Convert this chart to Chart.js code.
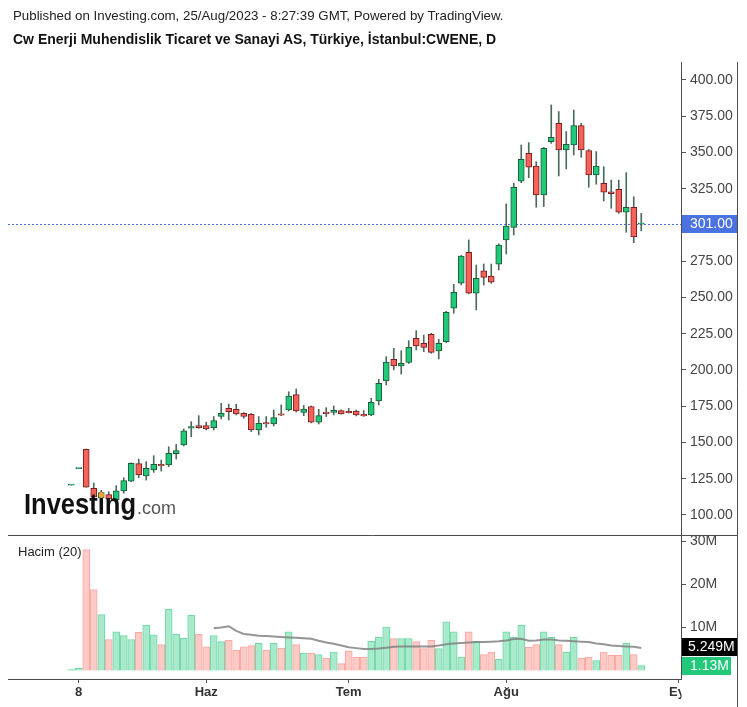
<!DOCTYPE html>
<html>
<head>
<meta charset="utf-8">
<script src="https://cdn.jsdelivr.net/npm/chart.js@4.4.0/dist/chart.umd.min.js"></script>
<style>
  html, body { margin: 0; padding: 0; background: #fff; }
  #wrap { position: relative; width: 747px; height: 707px; }
  #chart { position: absolute; left: 0; top: 0; }
  .hdr { position: absolute; left: 13px; font-family: "Liberation Sans", Arial, sans-serif; white-space: nowrap; }
  #pub { top: 8px; font-size: 13.3px; line-height: 15px; color: #222; }
  #ttl { top: 31px; font-size: 14px; line-height: 16px; font-weight: bold; color: #111; }
</style>
</head>
<body>
<div id="wrap">
  <canvas id="chart" width="747" height="707"></canvas>
  <div class="hdr" id="pub">Published on Investing.com, 25/Aug/2023 - 8:27:39 GMT, Powered by TradingView.</div>
  <div class="hdr" id="ttl">Cw Enerji Muhendislik Ticaret ve Sanayi AS, Türkiye, İstanbul:CWENE, D</div>
</div>
<script>
// trading days (2023)
const dates = [
  '05-05', '05-08', '05-09', '05-10', '05-11', '05-12', '05-15', '05-16', '05-17', '05-18',
  '05-22', '05-23', '05-24', '05-25', '05-26', '05-29', '05-30', '05-31',
  '06-01', '06-02', '06-05', '06-06', '06-07', '06-08', '06-09', '06-12', '06-13', '06-14',
  '06-15', '06-16', '06-19', '06-20', '06-21', '06-22', '06-23', '06-26', '06-27',
  '07-03', '07-04', '07-05', '07-06', '07-07', '07-10', '07-11', '07-12', '07-13', '07-14',
  '07-17', '07-18', '07-19', '07-20', '07-21', '07-24', '07-25', '07-26', '07-27', '07-28', '07-31',
  '08-01', '08-02', '08-03', '08-04', '08-07', '08-08', '08-09', '08-10', '08-11',
  '08-14', '08-15', '08-16', '08-17', '08-18', '08-21', '08-22', '08-23', '08-24', '08-25'
];

const open = [
  120.6, 132.0, 145.3, 118.4, 112.0, 114.0, 110.5, 116.6, 123.4, 135.4,
  126.9, 131.0, 135.0, 134.5, 142.3, 148.3, 159.8, 161.6,
  161.6, 160.2, 167.9, 173.6, 172.9, 170.1, 169.4, 158.6, 163.7, 162.8,
  169.7, 172.4, 183.0, 170.8, 174.8, 164.0, 171.0, 170.8, 172.0,
  171.5, 171.7, 169.4, 169.0, 178.6, 192.4, 207.4, 202.8, 205.3, 221.8,
  218.4, 224.6, 213.1, 219.5, 242.6, 259.8, 281.2, 252.9, 268.3, 264.8, 272.9,
  289.7, 298.4, 330.3, 349.4, 340.7, 320.7, 357.5, 370.1, 351.7,
  355.2, 368.5, 351.3, 334.5, 328.8, 322.8, 324.6, 308.8, 312.2, 300.6
];
const high = [
  120.8, 132.2, 145.5, 122.1, 117.0, 116.0, 120.2, 125.7, 136.0, 138.6,
  136.8, 140.9, 137.9, 147.1, 148.7, 159.3, 164.4, 168.5,
  164.0, 167.9, 177.0, 176.4, 176.4, 170.6, 170.0, 167.9, 167.9, 172.4,
  175.9, 185.0, 186.9, 175.6, 175.2, 172.9, 174.0, 175.2, 172.5,
  173.6, 172.4, 172.0, 180.5, 193.6, 209.2, 214.9, 213.3, 220.2, 227.1,
  224.1, 225.3, 221.2, 240.5, 259.1, 279.0, 289.7, 272.4, 273.1, 273.1, 287.0,
  314.5, 328.8, 355.2, 356.8, 343.7, 353.5, 382.8, 378.2, 364.4,
  379.3, 370.1, 352.0, 350.6, 340.2, 331.0, 331.0, 336.1, 319.5, 308.0
];
const low = [
  120.6, 132.0, 119.1, 110.0, 107.0, 109.0, 109.0, 115.0, 123.0, 125.7,
  124.1, 129.4, 130.3, 133.3, 138.6, 147.6, 154.0, 159.8,
  158.6, 158.6, 166.2, 165.5, 169.0, 166.7, 157.5, 155.2, 160.5, 161.4,
  168.5, 171.7, 171.0, 168.5, 163.5, 162.8, 167.9, 169.0, 169.5,
  170.3, 168.3, 168.0, 168.5, 175.9, 189.7, 200.0, 197.2, 204.5, 213.8,
  212.6, 211.5, 207.6, 219.0, 239.1, 258.6, 252.5, 241.4, 258.6, 259.8, 269.0,
  280.0, 293.1, 329.2, 332.6, 312.2, 312.7, 356.3, 333.8, 338.6,
  348.3, 346.7, 326.0, 328.1, 316.6, 311.5, 308.0, 295.0, 287.8, 295.9
];
const close = [
  120.8, 132.2, 119.1, 112.5, 115.5, 111.0, 116.6, 123.7, 135.7, 127.6,
  132.2, 134.9, 133.8, 142.6, 144.4, 158.1, 160.9, 160.2,
  159.3, 165.1, 170.1, 171.3, 169.7, 167.9, 158.6, 163.2, 162.8, 167.2,
  168.8, 182.0, 171.7, 173.1, 164.0, 168.5, 169.9, 172.2, 169.7,
  170.6, 169.0, 168.3, 177.7, 190.8, 205.5, 202.8, 204.6, 215.6, 216.6,
  215.6, 212.2, 218.4, 239.8, 253.6, 278.6, 252.9, 263.2, 263.9, 260.5, 286.2,
  299.3, 326.0, 345.3, 339.8, 320.7, 352.9, 360.5, 351.7, 355.6,
  368.5, 351.7, 334.5, 340.7, 322.6, 321.6, 308.8, 312.2, 291.7, 301.0
];
// volume, millions
const volume = [
  0.2, 0.5, 28.1, 18.8, 13.0, 7.2, 9.0, 8.1, 7.2, 8.9,
  10.5, 8.3, 6.0, 14.2, 8.4, 7.5, 12.8, 8.4,
  5.5, 8.1, 6.7, 7.0, 4.7, 5.5, 5.8, 6.3, 4.7, 6.3,
  5.2, 9.0, 6.0, 4.0, 4.0, 3.7, 2.9, 4.3, 1.6,
  4.6, 3.1, 3.1, 6.8, 7.7, 10.1, 7.4, 7.4, 7.4, 6.7,
  5.1, 7.0, 5.1, 11.3, 9.0, 3.1, 9.0, 6.8, 3.7, 4.3, 2.6,
  9.0, 7.7, 10.5, 5.4, 6.0, 9.0, 7.7, 6.0, 4.3,
  7.7, 2.8, 3.1, 2.3, 4.3, 3.5, 3.5, 6.3, 3.7, 1.13
];
// 20-day volume average as shown
const volumeMA = [
  null, null, null, null, null, null, null, null, null, null,
  null, null, null, null, null, null, null, null,
  null, 9.8, 10.0, 10.3, 9.2, 8.5, 8.3, 8.1, 8.0, 7.9,
  7.8, 7.7, 7.6, 7.5, 7.4, 6.9, 6.5, 6.2, 5.8,
  5.4, 5.2, 5.0, 5.0, 5.1, 5.3, 5.5, 5.6, 5.6, 5.6,
  5.6, 5.6, 5.8, 6.1, 6.3, 6.4, 6.5, 6.6, 6.6, 6.7, 6.8,
  7.0, 7.3, 7.4, 6.9, 7.0, 7.2, 7.2, 7.0, 6.9,
  6.8, 6.7, 6.6, 6.3, 6.1, 5.8, 5.7, 5.6, 5.5, 5.249
];

const priceTicks = [100, 125, 150, 175, 200, 225, 250, 275, 300, 325, 350, 375, 400];
const volumeTicks = [10, 20, 30];
const timeTickIndex = [1, 18, 37, 58, 81];
const timeTickText = ['8', 'Haz', 'Tem', 'Ağu', 'Eyl'];

const FONT = '"Liberation Sans", Arial, sans-serif';
const up = dates.map((d, i) => close[i] >= open[i]);

const decor = {
  id: 'decor',
  beforeDatasetsDraw(chart) {
    const {ctx, chartArea: a, scales: {y}} = chart;
    const py = Math.round(y.getPixelForValue(close[close.length - 1])) + 0.5;
    ctx.save();
    ctx.strokeStyle = '#4a6fdc';
    ctx.lineWidth = 1;
    ctx.setLineDash([2, 2]);
    ctx.beginPath();
    ctx.moveTo(a.left, py);
    ctx.lineTo(a.right, py);
    ctx.stroke();
    ctx.restore();
  },
  afterDatasetsDraw(chart) {
    const {ctx} = chart;
    ctx.save();
    // watermark
    ctx.fillStyle = 'rgba(255,255,255,0.9)';
    ctx.fillRect(22, 500, 158, 22);
    const lx = 24, ly = 514;
    ctx.save();
    ctx.translate(lx, ly);
    ctx.scale(0.88, 1);
    ctx.font = 'bold 29px ' + FONT;
    ctx.textBaseline = 'alphabetic';
    ctx.fillStyle = '#111';
    ctx.fillText('Investing', 0, 0);
    const w = ctx.measureText('Investing').width * 0.88;
    const pre = ctx.measureText('Invest').width;
    const wi = ctx.measureText('i').width;
    ctx.fillStyle = '#f6a52a';
    ctx.beginPath();
    ctx.arc(pre + wi / 2, -19, 3, 0, Math.PI * 2);
    ctx.fill();
    ctx.restore();
    ctx.font = '18px ' + FONT;
    ctx.fillStyle = '#555';
    ctx.fillText('.com', lx + w + 1, ly);
    // pane title
    ctx.font = '13px ' + FONT;
    ctx.fillStyle = '#222';
    ctx.fillText('Hacim (20)', 18, 556);
    ctx.restore();
  },
  afterDraw(chart) {
    const {ctx, chartArea: a, scales: {y, yv}} = chart;
    const right = a.right + 56;
    ctx.save();
    // hide the part of the time labels under the price scale
    ctx.fillStyle = '#fff';
    ctx.fillRect(a.right + 0.5, a.bottom + 1, right - a.right, 707 - a.bottom);
    // frame lines
    ctx.strokeStyle = '#4d4d4d';
    ctx.lineWidth = 1;
    ctx.beginPath();
    ctx.moveTo(a.left, Math.round(y.bottom) + 0.5);
    ctx.lineTo(right, Math.round(y.bottom) + 0.5);
    ctx.moveTo(right + 0.5, a.top);
    ctx.lineTo(right + 0.5, 707);
    ctx.stroke();

    ctx.font = '14px ' + FONT;
    ctx.textBaseline = 'middle';
    const box = (text, cy, bg, fixedW) => {
      const tw = Math.ceil(ctx.measureText(text).width);
      const bw = fixedW || tw + 10;
      ctx.fillStyle = bg;
      ctx.fillRect(a.right + 1, Math.round(cy - 9), bw, 18);
      ctx.fillStyle = '#fff';
      const tx = Math.min(a.right + 9, a.right + bw - tw - 1);
      ctx.fillText(text, tx, Math.round(cy) + 0.5);
    };
    const last = close[close.length - 1];
    box(last.toFixed(2), y.getPixelForValue(last), '#4a72e0', 55);
    const lastVol = volume[volume.length - 1];
    const lastMA = volumeMA[volumeMA.length - 1];
    const vy = yv.getPixelForValue(lastVol);
    let my = yv.getPixelForValue(lastMA);
    if (vy - my < 19) my = vy - 19;
    box(lastMA + 'M', my, '#000', 55);
    box(lastVol + 'M', vy, '#22c97a');
    ctx.restore();
  }
};

new Chart(document.getElementById('chart'), {
  type: 'bar',
  data: {
    datasets: [
      {
        type: 'line',
        yAxisID: 'yv',
        data: dates.map((d, i) => ({x: i, y: volumeMA[i]})),
        borderColor: 'rgba(130,130,130,0.85)',
        borderWidth: 2,
        pointRadius: 0,
        tension: 0,
        order: 0
      },
      {
        yAxisID: 'y',
        data: dates.map((d, i) => ({x: i, y: [open[i], close[i]]})),
        backgroundColor: up.map(u => u ? '#20c978' : '#f4625a'),
        borderColor: up.map(u => u ? '#1d5b3a' : '#7a1f1f'),
        borderWidth: 1,
        borderSkipped: false,
        barThickness: 6,
        minBarLength: 1,
        grouped: false,
        order: 1
      },
      {
        yAxisID: 'y',
        data: dates.map((d, i) => ({x: i, y: [low[i], high[i]]})),
        backgroundColor: '#4a6d5b',
        barThickness: 1,
        grouped: false,
        order: 2
      },
      {
        yAxisID: 'yv',
        data: dates.map((d, i) => ({x: i, y: volume[i]})),
        backgroundColor: up.map(u => u ? '#a8eacb' : '#fdcac6'),
        borderColor: up.map(u => u ? '#72d8a7' : '#f7a9a3'),
        borderWidth: 1,
        barThickness: 7,
        grouped: false,
        order: 3
      }
    ]
  },
  options: {
    responsive: false,
    animation: false,
    devicePixelRatio: 1,
    layout: {padding: {left: 8, right: 10, top: 62, bottom: 0}},
    plugins: {legend: {display: false}, tooltip: {enabled: false}},
    scales: {
      x: {
        type: 'linear',
        min: -8.43,
        max: 81.3,
        offset: false,
        grid: {display: true, drawOnChartArea: false, drawTicks: true, tickLength: 4, tickColor: '#555', offset: false},
        border: {display: true, color: '#4d4d4d'},
        ticks: {
          autoSkip: false,
          maxRotation: 0,
          padding: 2,
          color: '#333',
          font: {family: FONT, size: 13, weight: 'bold'},
          callback: v => timeTickText[timeTickIndex.indexOf(v)]
        },
        afterBuildTicks: s => { s.ticks = timeTickIndex.map(v => ({value: v})); },
        afterFit: s => { s.height = 28; }
      },
      y: {
        type: 'linear',
        position: 'right',
        stack: 'pane',
        stackWeight: 473,
        min: 86.2,
        max: 412.4,
        grid: {display: true, drawOnChartArea: false, drawTicks: true, tickLength: 5, tickColor: '#555'},
        border: {display: true, color: '#4d4d4d'},
        ticks: {padding: 4, color: '#444', font: {family: FONT, size: 14}, callback: v => v.toFixed(2)},
        afterBuildTicks: s => { s.ticks = priceTicks.map(v => ({value: v})); },
        afterFit: s => { s.width = 56; }
      },
      yv: {
        type: 'linear',
        position: 'right',
        stack: 'pane',
        stackWeight: 144,
        min: -1.98,
        max: 31.51,
        grid: {display: true, drawOnChartArea: false, drawTicks: true, tickLength: 5, tickColor: '#555'},
        border: {display: true, color: '#4d4d4d'},
        ticks: {padding: 4, color: '#444', font: {family: FONT, size: 14}, callback: v => v + 'M'},
        afterBuildTicks: s => { s.ticks = volumeTicks.map(v => ({value: v})); },
        afterFit: s => { s.width = 56; }
      }
    }
  },
  plugins: [decor]
});
</script>
</body>
</html>
